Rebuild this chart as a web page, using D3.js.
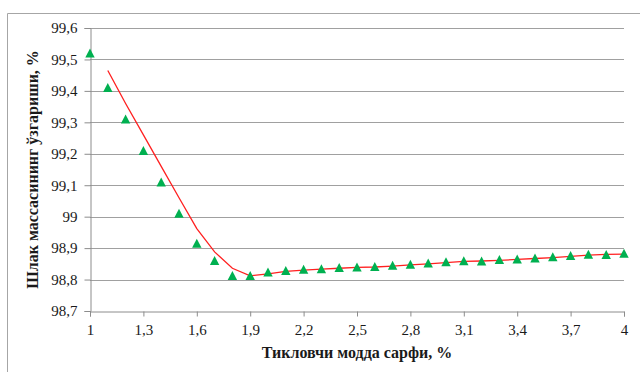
<!DOCTYPE html>
<html>
<head>
<meta charset="utf-8">
<script src="https://cdn.jsdelivr.net/npm/d3@7"></script>
<style>
  html, body { margin: 0; padding: 0; background: #fff; }
  svg { display: block; }
</style>
</head>
<body>
<svg id="chart" width="640" height="372"></svg>
<script>
// Data
const xValues = [1.0, 1.1, 1.2, 1.3, 1.4, 1.5, 1.6, 1.7, 1.8, 1.9, 2.0, 2.1, 2.2, 2.3, 2.4, 2.5,
                 2.6, 2.7, 2.8, 2.9, 3.0, 3.1, 3.2, 3.3, 3.4, 3.5, 3.6, 3.7, 3.8, 3.9, 4.0];
const massValues = [99.52, 99.41, 99.31, 99.21, 99.11, 99.01, 98.915, 98.86, 98.812, 98.812,
                    98.823, 98.828, 98.832, 98.834, 98.838, 98.839, 98.841, 98.845, 98.848, 98.852,
                    98.856, 98.859, 98.858, 98.863, 98.865, 98.868, 98.872, 98.876, 98.88, 98.879, 98.883];
const trendX = [1.1, 1.2, 1.3, 1.4, 1.5, 1.6, 1.7, 1.8, 1.9, 2.0, 2.1, 2.2, 2.3, 2.4, 2.5,
                2.6, 2.7, 2.8, 2.9, 3.0, 3.1, 3.2, 3.3, 3.4, 3.5, 3.6, 3.7, 3.8, 3.9, 4.0];
const trendValues = [99.465, 99.36, 99.26, 99.16, 99.06, 98.962, 98.888, 98.836, 98.812, 98.818,
                     98.826, 98.83, 98.833, 98.836, 98.839, 98.84, 98.843, 98.847, 98.85, 98.854,
                     98.858, 98.859, 98.861, 98.864, 98.867, 98.87, 98.874, 98.878, 98.88, 98.881];
const xTicks = [1, 1.3, 1.6, 1.9, 2.2, 2.5, 2.8, 3.1, 3.4, 3.7, 4];
const yTicks = [98.7, 98.8, 98.9, 99, 99.1, 99.2, 99.3, 99.4, 99.5, 99.6];
const xTitle = "Тикловчи модда сарфи, %";
const yTitle = "Шлак массасининг ўзгариши, %";

(function () {
const FONT = "'Liberation Serif', 'DejaVu Serif', serif";
const svg = d3.select("#chart");
const mLeft = 90, mRight = 624, mTop = 28, mBottom = 311;

// outer frame (top + left edges visible)
svg.append("path")
  .attr("d", "M7.5,372 L7.5,13.5 L640,13.5")
  .attr("fill", "none").attr("stroke", "#a6a6a6").attr("stroke-width", 1);

const x = d3.scaleLinear().domain([1, 4]).range([mLeft, mRight]);
const y = d3.scaleLinear().domain([98.7, 99.6]).range([mBottom, mTop]);
const fmt = d => String(+d.toFixed(1)).replace(".", ",");

// gridlines
svg.append("g")
  .selectAll("line").data(yTicks.slice(1)).join("line")
  .attr("x1", mLeft).attr("x2", mRight)
  .attr("y1", d => Math.round(y(d)) + 0.5).attr("y2", d => Math.round(y(d)) + 0.5)
  .attr("stroke", "#a0a0a0").attr("stroke-width", 1);

// y axis
const yAxis = svg.append("g")
  .attr("transform", `translate(${mLeft + 0.5},0)`)
  .call(d3.axisLeft(y).tickValues(yTicks).tickFormat(fmt).tickSize(6).tickPadding(7));
yAxis.attr("font-family", null).attr("font-size", null);
yAxis.select(".domain").attr("stroke", "#8c8c8c");
yAxis.selectAll(".tick line").attr("stroke", "#8c8c8c");
yAxis.selectAll("text").style("font-family", FONT).style("font-size", "15px").attr("fill", "#1a1a1a");

// x axis
const xAxis = svg.append("g")
  .attr("transform", `translate(0,${mBottom + 0.5})`)
  .call(d3.axisBottom(x).tickValues(xTicks).tickFormat(fmt).tickSize(5).tickPadding(8));
xAxis.attr("font-family", null).attr("font-size", null);
xAxis.select(".domain").attr("stroke", "#8c8c8c");
xAxis.selectAll(".tick line").attr("stroke", "#8c8c8c");
xAxis.selectAll("text").style("font-family", FONT).style("font-size", "15px").attr("fill", "#1a1a1a");

// trend line (red)
const trendData = trendX.map((d, i) => [d, trendValues[i]]);
svg.append("path")
  .datum(trendData)
  .attr("fill", "none")
  .attr("stroke", "#ff2020")
  .attr("stroke-width", 1.3)
  .attr("d", d3.line().x(d => x(d[0])).y(d => y(d[1])));

// triangle markers
const pts = xValues.map((d, i) => [d, massValues[i]]);
svg.append("g").selectAll("path").data(pts).join("path")
  .attr("transform", d => `translate(${x(d[0])},${y(d[1])})`)
  .attr("d", "M0,-4.7 L4.7,4.3 L-4.7,4.3 Z")
  .attr("fill", "#00b050");

// axis titles
svg.append("text")
  .attr("x", (mLeft + mRight) / 2).attr("y", 358)
  .attr("text-anchor", "middle")
  .style("font-family", FONT)
  .style("font-size", "16px").style("font-weight", "bold")
  .attr("fill", "#1a1a1a")
  .text(xTitle);

svg.append("text")
  .attr("transform", `translate(38,${(mTop + mBottom) / 2}) rotate(-90)`)
  .attr("text-anchor", "middle")
  .style("font-family", FONT)
  .style("font-size", "16px").style("font-weight", "bold")
  .attr("fill", "#1a1a1a")
  .text(yTitle);
})();
</script>
</body>
</html>
